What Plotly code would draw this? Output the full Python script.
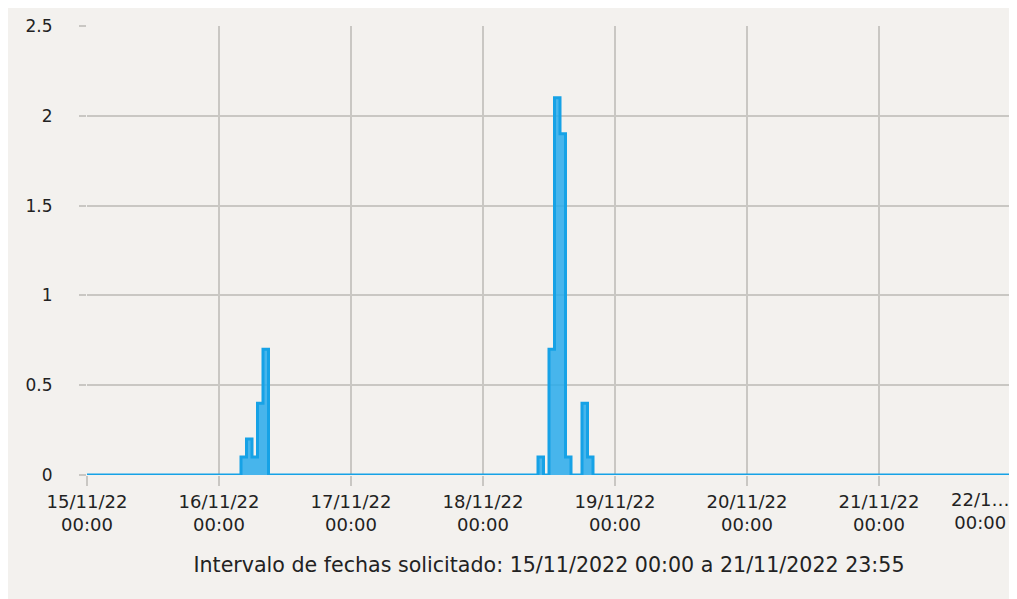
import pandas as pd
import plotly.graph_objects as go

# Hourly precipitation; hours not listed are 0
event_times = [
    "2022-11-16 04:00", "2022-11-16 05:00", "2022-11-16 06:00", "2022-11-16 07:00", "2022-11-16 08:00",
    "2022-11-18 10:00", "2022-11-18 12:00", "2022-11-18 13:00", "2022-11-18 14:00", "2022-11-18 15:00",
    "2022-11-18 18:00", "2022-11-18 19:00",
]
event_values = [0.1, 0.2, 0.1, 0.4, 0.7,
                0.1, 0.7, 2.1, 1.9, 0.1,
                0.4, 0.1]

start = "2022-11-15 00:00"
end = "2022-11-21 23:55"
tick_dates = ["2022-11-15", "2022-11-16", "2022-11-17", "2022-11-18",
              "2022-11-19", "2022-11-20", "2022-11-21", "2022-11-22"]
tick_labels = ["15/11/22<br>00:00", "16/11/22<br>00:00", "17/11/22<br>00:00", "18/11/22<br>00:00",
               "19/11/22<br>00:00", "20/11/22<br>00:00", "21/11/22<br>00:00", ""]
last_label = "22/1…<br>00:00"
y_ticks = [0, 0.5, 1, 1.5, 2, 2.5]
y_labels = ["0", "0.5", "1", "1.5", "2", "2.5"]
x_title = "Intervalo de fechas solicitado: 15/11/2022 00:00 a 21/11/2022 23:55"

hours = pd.date_range(start, "2022-11-21 23:00", freq="h")
series = pd.Series(0.0, index=hours)
for t, v in zip(event_times, event_values):
    series[pd.Timestamp(t)] = v
series[pd.Timestamp("2022-11-22 00:00")] = 0.0

fig = go.Figure()
fig.add_trace(go.Scatter(
    x=series.index, y=series.values, mode="lines",
    line=dict(shape="hv", color="#16a2e6", width=3),
    fill="tozeroy", fillcolor="rgba(40,170,235,0.85)",
    hoverinfo="x+y", showlegend=False,
))

grid = "#c9c7c3"
font = "DejaVu Sans"
bg = "#f3f1ee"
fig.update_layout(
    width=1009, height=591,
    margin=dict(l=79, r=6, t=18, b=124),
    paper_bgcolor=bg, plot_bgcolor=bg,
    font=dict(family=font, size=17, color="#222222"),
    xaxis=dict(
        type="date",
        range=["2022-11-15 00:00", "2022-11-22 00:00"],
        tickvals=tick_dates, ticktext=tick_labels,
        showgrid=True, gridcolor=grid, gridwidth=1.5,
        ticks="outside", ticklen=10, tickcolor=grid, tickwidth=1.5,
        showline=False, zeroline=False,
        tickfont=dict(size=18, family=font, color="#222222"),
        title=dict(text=x_title, font=dict(size=20.6, family=font, color="#222222"), standoff=23),
    ),
    yaxis=dict(
        range=[0, 2.5],
        tickvals=y_ticks, ticktext=y_labels,
        showgrid=True, gridcolor=grid, gridwidth=1.5,
        ticks="outside", ticklen=7, tickcolor=grid, tickwidth=1.5,
        ticklabelstandoff=23,
        zeroline=False, showline=False,
        tickfont=dict(size=17, family=font, color="#222222"),
    ),
    annotations=[dict(x="2022-11-22 00:00", y=0, xref="x", yref="y",
                      text=last_label, showarrow=False, xanchor="right", yanchor="top",
                      xshift=0, yshift=-12, align="center",
                      font=dict(size=18, family=font, color="#222222"))],
)

fig.write_html("out.html")
